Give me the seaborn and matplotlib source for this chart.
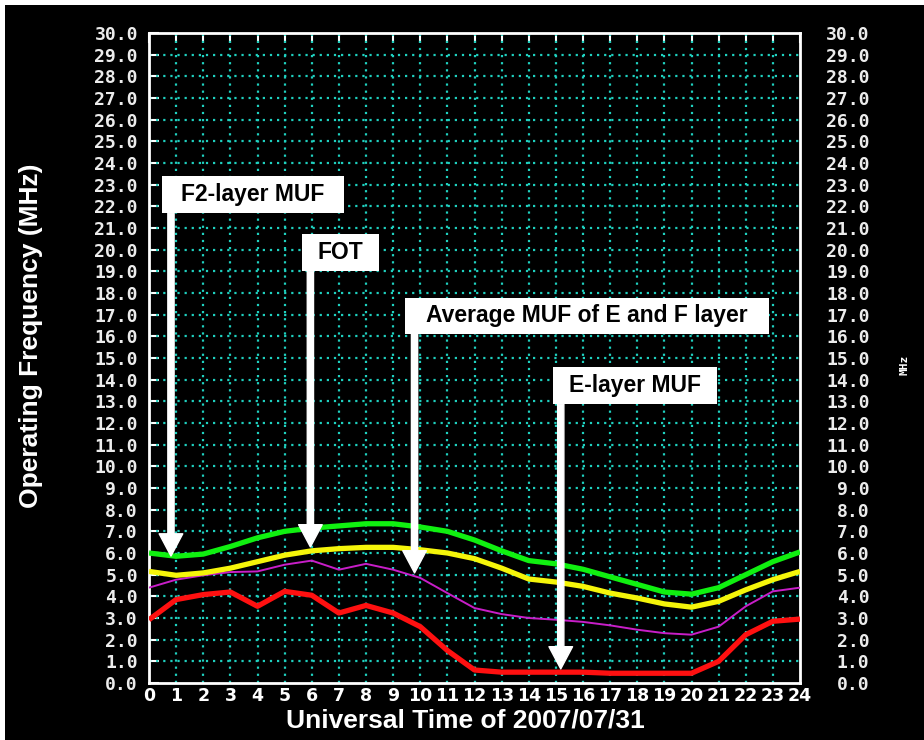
import matplotlib
matplotlib.use("Agg")
import matplotlib.pyplot as plt
from matplotlib.patches import Rectangle
import numpy as np
import pandas as pd
import seaborn as sns

# ----- data -----
hours = list(range(25))
f2_muf = [6.0, 5.85, 5.95, 6.3, 6.7, 7.0, 7.15, 7.25, 7.35, 7.35, 7.2, 7.0, 6.6,
          6.1, 5.65, 5.5, 5.25, 4.9, 4.55, 4.2, 4.1, 4.4, 5.0, 5.6, 6.05]
fot = [5.15, 4.97, 5.08, 5.3, 5.6, 5.9, 6.1, 6.2, 6.26, 6.26, 6.15, 6.0, 5.74,
       5.3, 4.8, 4.66, 4.46, 4.15, 3.92, 3.65, 3.5, 3.77, 4.3, 4.77, 5.15]
avg_muf = [4.4, 4.77, 4.97, 5.12, 5.15, 5.46, 5.65, 5.23, 5.5, 5.23, 4.85, 4.15, 3.46,
           3.18, 3.0, 2.92, 2.82, 2.66, 2.46, 2.3, 2.23, 2.6, 3.54, 4.23, 4.4]
e_muf = [2.92, 3.85, 4.08, 4.2, 3.54, 4.23, 4.05, 3.23, 3.58, 3.23, 2.6, 1.5, 0.6,
         0.5, 0.5, 0.5, 0.5, 0.45, 0.45, 0.45, 0.45, 1.0, 2.23, 2.85, 2.95]
y_ticks = np.arange(0, 31, 1)

# annotation boxes: label, box (x0, x1, y0, y1) in data units, arrow x, arrow tip y
notes = [
    ("F2-layer MUF", (0.48, 7.2, 21.69, 23.40), 0.81, 5.86),
    ("FOT", (5.65, 8.49, 19.01, 20.72), 5.95, 6.28),
    ("Average MUF of E and F layer", (9.45, 22.86, 16.11, 17.77), 9.79, 5.08),
    ("E-layer MUF", (14.88, 20.94, 12.87, 14.58), 15.18, 0.65),
]
# -----------------------------------

df = pd.DataFrame({"hour": hours, "f2": f2_muf, "fot": fot, "avg": avg_muf, "e": e_muf})

sns.set_style("dark")
plt.rcParams["font.family"] = ["Liberation Sans", "DejaVu Sans"]

fig = plt.figure(figsize=(9.24, 7.4), dpi=100, facecolor="white")
# black backdrop with a thin white edge top/left like the screenshot
fig.patches.append(Rectangle((5 / 924, 0), 1, 1 - 5 / 740, transform=fig.transFigure,
                             facecolor="black", edgecolor="none", zorder=-10))

ax = fig.add_axes([149 / 924, 1 - 683 / 740, 651 / 924, 650 / 740])
ax.set_facecolor("black")

grid_col = "#1fd0bf"
for h in hours[1:-1]:
    ax.axvline(h, color=grid_col, lw=1.6, ls=(0, (1, 2.2)), zorder=1)
for v in y_ticks[1:-1]:
    ax.axhline(v, color=grid_col, lw=1.6, ls=(0, (1, 2.2)), zorder=1)

sns.lineplot(data=df, x="hour", y="avg", ax=ax, color="#c81ec8", lw=1.4, zorder=3)
sns.lineplot(data=df, x="hour", y="e", ax=ax, color="#ff1010", lw=3.8, zorder=4)
sns.lineplot(data=df, x="hour", y="fot", ax=ax, color="#f5f50a", lw=3.8, zorder=4)
sns.lineplot(data=df, x="hour", y="f2", ax=ax, color="#10f010", lw=3.8, zorder=4)
for ln in ax.lines:
    ln.set_solid_joinstyle("round")
    ln.set_solid_capstyle("butt")

ax.set_xlim(0, 24)
ax.set_ylim(0, 30)
ax.set_xticks(hours)
ax.set_xticklabels([str(h) for h in hours], fontsize=12.5, fontweight="bold",
                   color="white", family=["DejaVu Sans"])
ax.set_yticks(y_ticks)
ax.set_yticklabels([f"{v:.1f}" for v in y_ticks], fontsize=13, fontweight="bold",
                   color="#ececec", family=["DejaVu Sans Mono"])
ax.tick_params(axis="both", direction="in", color="white", length=7, width=1.5,
               top=True, right=True)
ax.tick_params(axis="x", pad=3)
ax.tick_params(axis="y", pad=8)
ax.set_xlabel("")
ax.set_ylabel("")
for s in ax.spines.values():
    s.set_color("white")
    s.set_linewidth(2)
    s.set_visible(True)

# right-hand copy of the frequency scale
ax2 = ax.twinx()
ax2.set_ylim(0, 30)
ax2.set_yticks(y_ticks)
ax2.set_yticklabels([f"{v:.1f}" for v in y_ticks], fontsize=13, fontweight="bold",
                    color="#ececec", family=["DejaVu Sans Mono"], ha="right")
ax2.tick_params(axis="y", direction="in", length=0, pad=50)
ax2.grid(False)
for s in ax2.spines.values():
    s.set_visible(False)

# labelled boxes with white arrows
for label, (x0, x1, y0, y1), ax_x, tip in notes:
    ax.add_patch(Rectangle((x0, y0), x1 - x0, y1 - y0, facecolor="white",
                           edgecolor="none", zorder=6))
    ax.text((x0 + x1) / 2, (y0 + y1) / 2, label, ha="center", va="center",
            fontsize=16.5, fontweight="bold", color="black", zorder=7)
    ax.annotate("", xy=(ax_x, tip), xytext=(ax_x, y0), zorder=8,
                arrowprops=dict(facecolor="white", edgecolor="white", width=4.5,
                                headwidth=17, headlength=16, shrink=0))

fig.text(465 / 924, 1 - 721 / 740, "Universal Time of 2007/07/31", ha="center",
         va="center", fontsize=19, fontweight="bold", color="white")
fig.text(31 / 924, 1 - 336 / 740, "Operating Frequency (MHz)", ha="center",
         va="center", rotation=90, fontsize=19, fontweight="bold", color="white")
fig.text(905 / 924, 1 - 365 / 740, "MHz", ha="center", va="center", rotation=90,
         fontsize=8, fontweight="bold", color="white", family=["DejaVu Sans Mono"])

fig.savefig("out.png", dpi=100, facecolor=fig.get_facecolor())
